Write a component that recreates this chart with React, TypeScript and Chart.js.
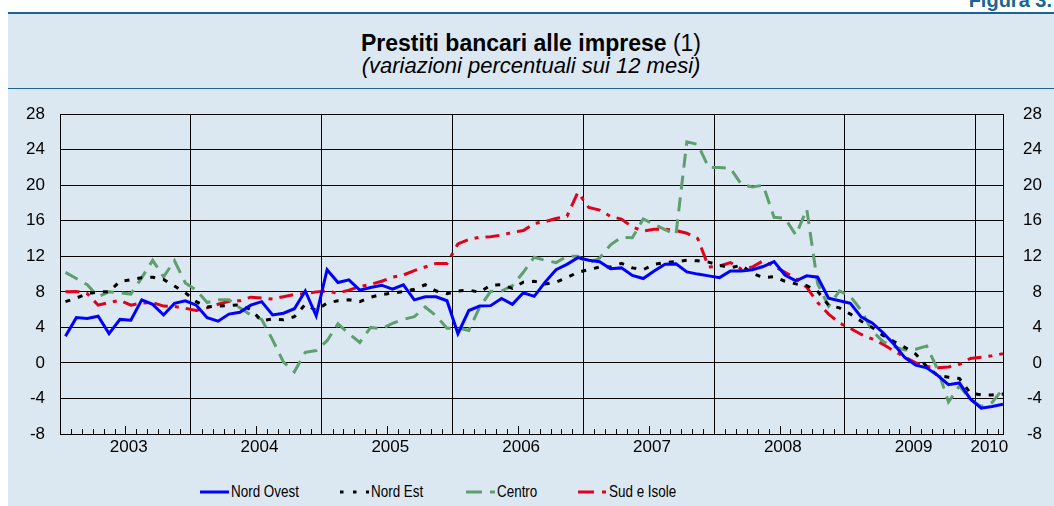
import React, { useEffect, useRef } from 'react';
import { Chart, registerables } from 'chart.js';

Chart.register(...registerables);

// ---- DATA ----
// Monthly observations, January 2003 .. March 2010
const months: string[] = [];
for (let y = 2003; y <= 2010; y++) {
  for (let m = 1; m <= 12; m++) {
    if (y === 2010 && m > 3) break;
    months.push(`${y}-${String(m).padStart(2, '0')}`);
  }
}

const yearLabels = ['2003', '2004', '2005', '2006', '2007', '2008', '2009', '2010'];
const yTicks = [-8, -4, 0, 4, 8, 12, 16, 20, 24, 28];

const nordOvest = [
  3.0, 5.1, 5.0, 5.25, 3.3, 4.9, 4.8, 7.1, 6.6, 5.4, 6.7, 7.0,
  6.5, 5.1, 4.7, 5.5, 5.7, 6.5, 6.9, 5.4, 5.6, 6.1, 8.1, 5.3,
  10.5, 9.05, 9.35, 8.2, 8.5, 8.75, 8.3, 8.8, 7.1, 7.45, 7.45, 7.0,
  3.3, 5.9, 6.4, 6.45, 7.25, 6.6, 7.9, 7.5, 9.1, 10.5, 11.1, 11.85,
  11.55, 11.4, 10.6, 10.7, 9.85, 9.5, 10.35, 11.1, 11.15, 10.25, 10.0, 9.8,
  9.6, 10.35, 10.35, 10.5, 10.85, 11.4, 9.9, 9.25, 9.8, 9.65, 7.3, 7.0,
  6.7, 5.15, 4.5, 3.4, 2.1, 0.6, -0.25, -0.55, -1.4, -2.45, -2.25, -4.05,
  -5.1, -4.9, -4.65,
];

const nordEst = [
  6.9, 7.3, 7.8, 8.0, 8.0, 9.2, 9.35, 9.6, 9.65, 9.4, 8.65, 7.9,
  6.9, 6.3, 6.4, 6.45, 6.55, 6.0, 4.75, 4.95, 4.85, 5.2, 6.6, 5.9,
  6.75, 7.0, 7.1, 6.9, 7.4, 7.7, 7.85, 8.05, 8.3, 8.8, 8.1, 7.8,
  8.1, 8.2, 7.95, 8.75, 8.8, 8.4, 9.1, 9.2, 8.9, 9.1, 9.6, 10.2,
  10.5, 10.8, 10.8, 11.2, 10.7, 10.5, 11.1, 11.3, 11.4, 11.55, 11.5, 11.35,
  11.0, 10.7, 11.0, 10.1, 9.6, 9.7, 9.2, 8.9, 8.7, 8.05, 6.5, 6.2,
  5.5, 4.7, 4.0, 3.1, 2.4, 1.75, 1.0, -0.4, -1.4, -1.6, -1.75, -3.4,
  -3.6, -3.6, -3.5,
];

const centro = [
  10.2, 9.5, 8.8, 7.45, 8.0, 7.9, 7.75, 9.6, 11.55, 9.7, 11.5, 9.0,
  8.2, 6.8, 7.1, 7.1, 6.2, 5.4, 4.9, 2.6, 0.1, -1.0, 1.2, 1.4,
  2.5, 4.4, 3.3, 2.3, 4.0, 3.85, 4.45, 4.9, 5.2, 6.3, 5.3, 3.9,
  3.95, 3.65, 6.3, 8.05, 8.1, 8.7, 10.2, 11.9, 11.55, 11.3, 12.0, 12.0,
  11.2, 11.8, 13.3, 14.15, 14.1, 16.2, 15.6, 15.0, 14.45, 24.9, 24.6, 22.0,
  22.0, 21.9, 20.1, 19.8, 20.0, 16.4, 16.3, 14.4, 17.3, 8.9, 6.4, 8.1,
  7.5, 5.9, 3.6, 2.4, 1.85, 1.45, 1.55, 1.9, -0.7, -4.4, -2.6, -4.1,
  -4.9, -4.45, -2.9,
];

const sudIsole = [
  8.0, 8.05, 7.8, 6.5, 6.8, 7.05, 6.5, 6.75, 6.8, 6.4, 6.35, 6.15,
  5.9, 6.2, 6.6, 6.95, 7.0, 7.4, 7.3, 7.2, 7.45, 7.7, 7.8, 8.0,
  8.1, 7.85, 8.2, 8.6, 8.85, 9.2, 9.65, 9.9, 10.4, 10.8, 11.2, 11.2,
  13.4, 13.9, 14.15, 14.2, 14.4, 14.7, 14.9, 15.7, 15.9, 16.25, 16.5, 19.2,
  17.5, 17.2, 16.5, 16.2, 15.3, 14.85, 15.05, 15.05, 14.9, 14.6, 14.0, 10.8,
  10.9, 11.3, 10.55, 10.8, 11.5, 10.9, 10.2, 9.5, 8.5, 6.8, 5.5, 4.5,
  3.9, 3.2, 2.7, 2.1, 1.35, 0.65, 0.0, -0.4, -0.55, -0.45, -0.15, 0.5,
  0.65, 0.8, 1.05,
];

// ---- STYLE ----
const FONT = '"Liberation Sans", Arial, Helvetica, sans-serif';
const BLUE = '#0000ff';
const BLACK = '#000000';
const GREEN = '#5f9e6f';
const RED = '#e2001a';
const PANEL = '#dce8f1';
const DARK = '#1d6494';

const series = [
  { label: 'Nord Ovest', data: nordOvest, color: BLUE, dash: [] as number[], legendDash: '' },
  { label: 'Nord Est', data: nordEst, color: BLACK, dash: [5, 8], legendDash: '3.5 9.5' },
  { label: 'Centro', data: centro, color: GREEN, dash: [14, 8], legendDash: '16 8' },
  { label: 'Sud e Isole', data: sudIsole, color: RED, dash: [14, 7, 4, 7], legendDash: '16 8 4 8' },
];

const legendLeft = [200, 340, 466, 578];

const monthTicks = {
  id: 'monthTicks',
  beforeDatasetsDraw(chart: any) {
    const { ctx, chartArea, scales } = chart;
    const xs = scales.x;
    ctx.save();
    ctx.strokeStyle = '#000';
    ctx.lineWidth = 1;
    ctx.beginPath();
    for (let m = 1; m < months.length; m++) {
      if (m % 12 === 0) continue;
      const px = Math.round(xs.getPixelForValue(m)) + 0.5;
      const len = m % 12 === 6 ? 8 : 5;
      ctx.moveTo(px, chartArea.bottom);
      ctx.lineTo(px, chartArea.bottom - len);
    }
    ctx.stroke();
    ctx.restore();
  },
};

export default function App() {
  const canvasRef = useRef<HTMLCanvasElement>(null);

  useEffect(() => {
    const canvas = canvasRef.current;
    if (!canvas) return;
    Chart.defaults.font.family = FONT;
    const lastX = months.length - 0.5;
    const tickValues: number[] = [];
    for (let k = 0; k < yearLabels.length; k++) {
      if (k > 0) tickValues.push(12 * k);
      const end = Math.min(12 * (k + 1), lastX);
      tickValues.push(k === yearLabels.length - 1 ? (12 * k + end) / 2 : 12 * k + 6.3);
    }

    const chart = new Chart(canvas, {
      type: 'line',
      data: {
        datasets: series.map((s) => ({
          label: s.label,
          data: s.data.map((v, i) => ({ x: i + 0.5, y: v })),
          borderColor: s.color,
          backgroundColor: s.color,
          borderWidth: 3,
          borderDash: s.dash,
          pointRadius: 0,
          pointHoverRadius: 0,
          tension: 0,
          fill: false,
        })),
      },
      options: {
        responsive: false,
        animation: false,
        events: [],
        layout: { padding: { top: 23, right: 12, left: 0, bottom: 0 } },
        plugins: {
          legend: { display: false },
          title: { display: false },
          tooltip: { enabled: false },
        },
        scales: {
          x: {
            type: 'linear',
            min: 0,
            max: lastX,
            afterBuildTicks: (scale: any) => {
              scale.ticks = tickValues.map((v) => ({ value: v }));
            },
            afterFit: (scale: any) => {
              scale.height = 33;
            },
            ticks: {
              autoSkip: false,
              maxRotation: 0,
              minRotation: 0,
              padding: 3,
              color: '#000',
              font: { size: 17, family: FONT },
              callback: (v: any) => {
                const n = Number(v);
                if (n % 12 === 0) return '';
                return yearLabels[Math.floor(n / 12)] ?? '';
              },
            },
            grid: {
              drawTicks: false,
              lineWidth: 1,
              color: (ctx: any) => (ctx.tick && ctx.tick.value % 12 === 0 ? '#000' : 'rgba(0,0,0,0)'),
            },
            border: { display: true, color: '#000', width: 1 },
          },
          y: {
            type: 'linear',
            position: 'left',
            min: -8,
            max: 28,
            afterBuildTicks: (scale: any) => {
              scale.ticks = yTicks.map((v) => ({ value: v }));
            },
            afterFit: (scale: any) => {
              scale.width = 52;
            },
            ticks: {
              padding: 15,
              color: '#000',
              font: { size: 17, family: FONT },
            },
            grid: { drawTicks: false, color: '#000', lineWidth: 1 },
            border: { display: true, color: '#000', width: 1 },
          },
          y2: {
            type: 'linear',
            position: 'right',
            min: -8,
            max: 28,
            afterBuildTicks: (scale: any) => {
              scale.ticks = yTicks.map((v) => ({ value: v }));
            },
            afterFit: (scale: any) => {
              scale.width = 39;
            },
            ticks: {
              padding: 15,
              crossAlign: 'far',
              color: '#000',
              font: { size: 17, family: FONT },
            },
            grid: { drawTicks: false, drawOnChartArea: false },
            border: { display: true, color: '#000', width: 1 },
          },
        },
      } as any,
      plugins: [monthTicks],
    });
    return () => chart.destroy();
  }, []);

  return (
    <div
      style={{
        position: 'absolute',
        left: 0,
        top: 0,
        width: 1054,
        height: 506,
        overflow: 'hidden',
        background: '#fff',
        fontFamily: FONT,
      }}
    >
      <div
        style={{
          position: 'absolute',
          right: 2,
          top: -10,
          fontSize: 20,
          lineHeight: '20px',
          fontWeight: 'bold',
          color: DARK,
          whiteSpace: 'nowrap',
        }}
      >
        Figura 3.
      </div>
      <div style={{ position: 'absolute', left: 8, top: 12, width: 1046, height: 2, background: DARK }} />
      <div style={{ position: 'absolute', left: 8, top: 14, width: 1046, height: 492, background: PANEL }} />
      <div style={{ position: 'absolute', left: 8, top: 88, width: 1046, height: 1, background: DARK }} />
      <div
        style={{
          position: 'absolute',
          left: 8,
          width: 1046,
          top: 30,
          textAlign: 'center',
          fontSize: 23,
          lineHeight: '26px',
          color: '#000',
          whiteSpace: 'nowrap',
        }}
      >
        <span style={{ fontWeight: 'bold' }}>Prestiti bancari alle imprese</span> (1)
      </div>
      <div
        style={{
          position: 'absolute',
          left: 8,
          width: 1046,
          top: 54,
          textAlign: 'center',
          fontSize: 22,
          lineHeight: '24px',
          fontStyle: 'italic',
          color: '#000',
          whiteSpace: 'nowrap',
        }}
      >
        (variazioni percentuali sui 12 mesi)
      </div>
      <canvas
        ref={canvasRef}
        width={1046}
        height={378}
        style={{ position: 'absolute', left: 8, top: 89, width: 1046, height: 378 }}
      />
      {series.map((s, i) => (
        <div
          key={s.label}
          style={{
            position: 'absolute',
            left: legendLeft[i],
            top: 482,
            height: 20,
            display: 'flex',
            alignItems: 'center',
            whiteSpace: 'nowrap',
          }}
        >
          <svg width={29} height={20} style={{ display: 'block' }}>
            <line
              x1={0}
              y1={10}
              x2={29}
              y2={10}
              stroke={s.color}
              strokeWidth={3}
              strokeDasharray={s.legendDash || undefined}
            />
          </svg>
          <span
            style={{
              display: 'inline-block',
              marginLeft: 2,
              fontSize: 17,
              lineHeight: '20px',
              color: '#000',
              transform: 'scaleX(0.79)',
              transformOrigin: 'left center',
            }}
          >
            {s.label}
          </span>
        </div>
      ))}
    </div>
  );
}
